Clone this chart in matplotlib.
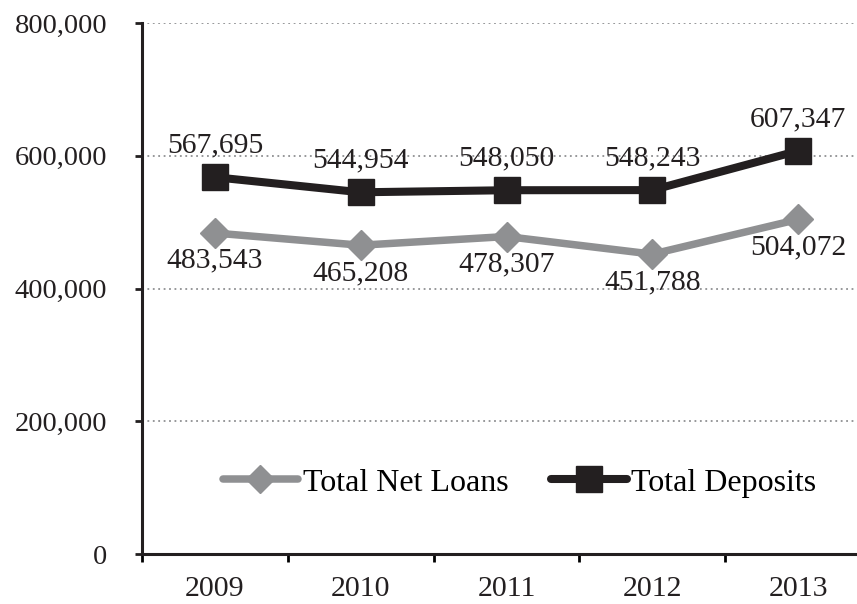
import matplotlib
matplotlib.use("Agg")
import matplotlib.pyplot as plt
from matplotlib.ticker import FuncFormatter, FixedLocator

years = ["2009", "2010", "2011", "2012", "2013"]
net_loans = [483543, 465208, 478307, 451788, 504072]
deposits = [567695, 544954, 548050, 548243, 607347]
y_ticks = [0, 200000, 400000, 600000, 800000]

plt.rcParams['font.family'] = ['Liberation Serif', 'DejaVu Serif']
FS = 20.5

fig = plt.figure(figsize=(8.57, 6.04), dpi=100)
ax = fig.add_axes([142/857, 50/604, 729/857, 531/604])

x = [i + 0.5 for i in range(len(years))]
loan_c = '#8f9092'
dep_c = '#231f20'

ax.plot(x, net_loans, color=loan_c, lw=5.4, marker='D', ms=15, mec=loan_c, mfc=loan_c,
        label='Total Net Loans', solid_capstyle='round', zorder=3)
ax.plot(x, deposits, color=dep_c, lw=5.8, marker='s', ms=19, mec=dep_c, mfc=dep_c,
        label='Total Deposits', solid_capstyle='round', zorder=4)

for xi, v in zip(x, deposits):
    ax.annotate(f"{v:,}", (xi, v), xytext=(0, 23), textcoords='offset points',
                ha='center', va='center', fontsize=21.3, color='#231f20')
for xi, v in zip(x, net_loans):
    ax.annotate(f"{v:,}", (xi, v), xytext=(0, -20), textcoords='offset points',
                ha='center', va='center', fontsize=21.3, color='#231f20')

ax.set_xlim(0, 5)
ax.set_ylim(0, 800000)
ax.yaxis.set_major_locator(FixedLocator(y_ticks))
ax.yaxis.set_major_formatter(FuncFormatter(lambda v, p: f"{int(v):,}"))
ax.xaxis.set_major_locator(FixedLocator([0, 1, 2, 3, 4, 5]))
ax.xaxis.set_major_formatter(FuncFormatter(lambda v, p: ""))
ax.xaxis.set_minor_locator(FixedLocator(x))
ax.set_xticklabels(years, minor=True)

ax.tick_params(axis='y', which='major', length=5, width=2, direction='out',
               labelsize=FS, pad=20, colors='#231f20')
ax.tick_params(axis='x', which='major', length=6, width=2, direction='out')
ax.tick_params(axis='x', which='minor', length=0, labelsize=21.5, pad=16, colors='#231f20')

for sp in ['top', 'right']:
    ax.spines[sp].set_visible(False)
for sp in ['left', 'bottom']:
    ax.spines[sp].set_linewidth(2.2)
    ax.spines[sp].set_color('#231f20')

ax.yaxis.grid(True, linestyle=(0, (1, 2)), color='#8f9092', lw=1.3)
ax.set_axisbelow(True)

leg = ax.legend(loc='center', bbox_to_anchor=(0.518, 0.134), ncol=2, frameon=False,
                fontsize=23, handlelength=2.35, handletextpad=0.15, columnspacing=1.35,
                markerscale=0.95)

fig.savefig('out.png', dpi=100)
